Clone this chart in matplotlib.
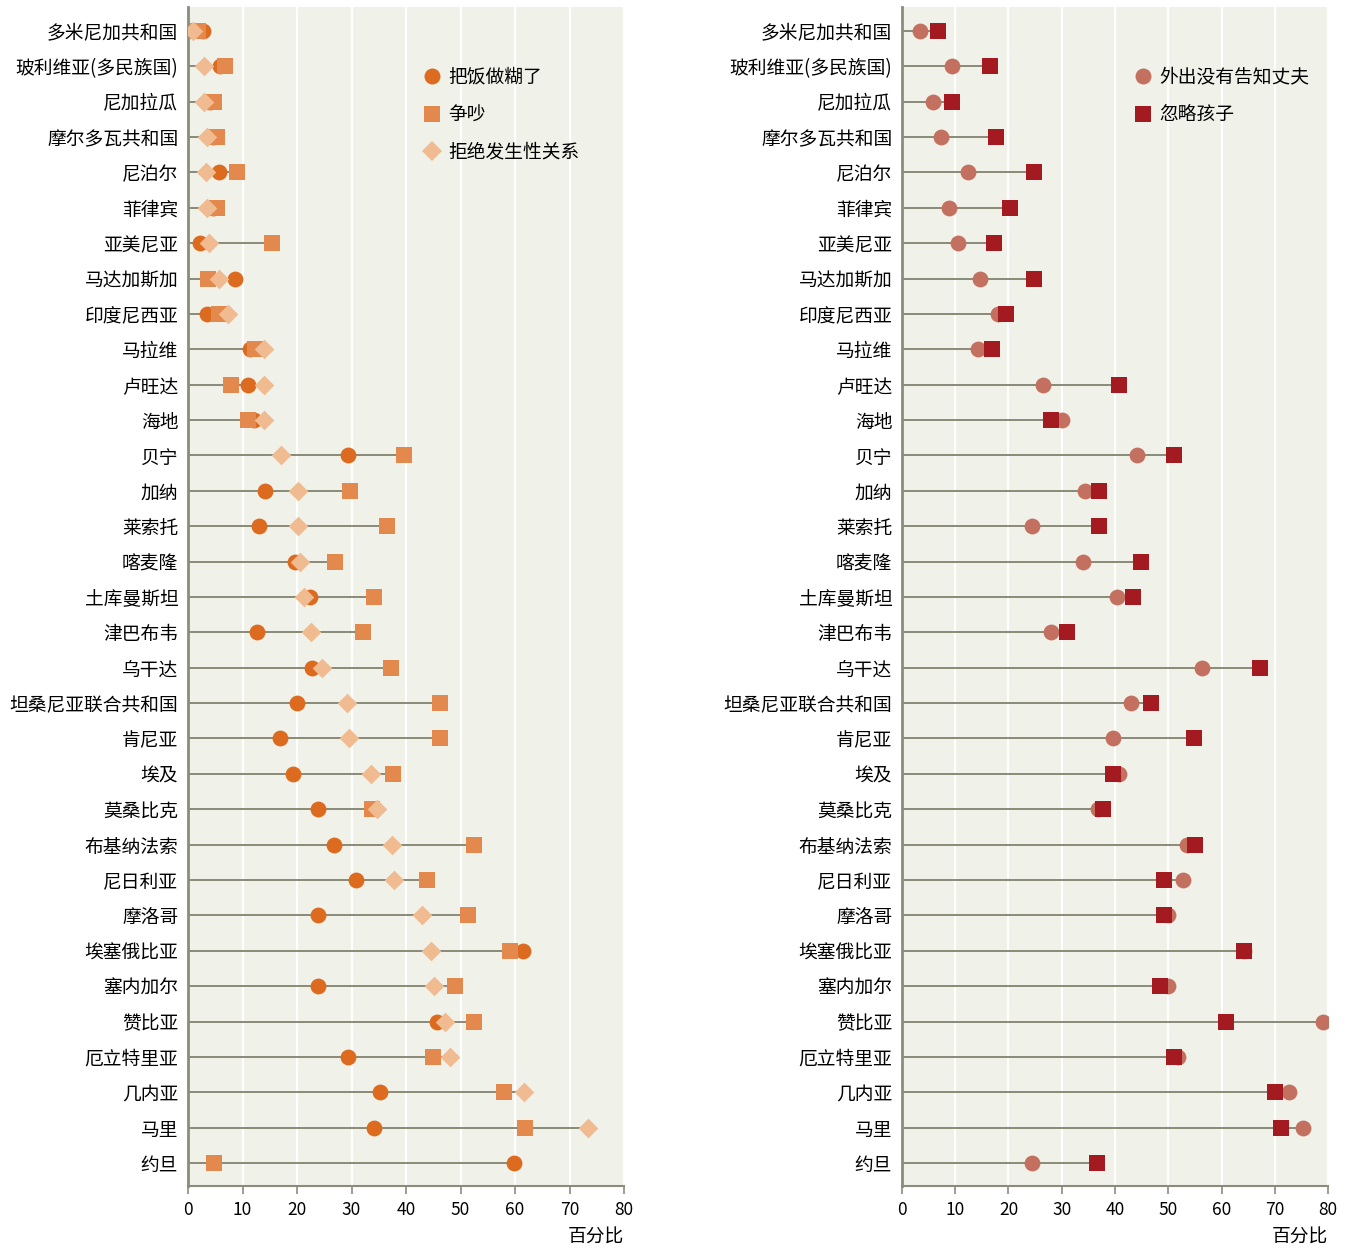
import matplotlib
matplotlib.use("Agg")
import matplotlib.pyplot as plt
from matplotlib.lines import Line2D

plt.rcParams["font.family"] = ["Noto Sans CJK SC", "DejaVu Sans"]

countries = [
    "多米尼加共和国", "玻利维亚(多民族国)", "尼加拉瓜", "摩尔多瓦共和国", "尼泊尔",
    "菲律宾", "亚美尼亚", "马达加斯加", "印度尼西亚", "马拉维", "卢旺达", "海地",
    "贝宁", "加纳", "莱索托", "喀麦隆", "土库曼斯坦", "津巴布韦", "乌干达",
    "坦桑尼亚联合共和国", "肯尼亚", "埃及", "莫桑比克", "布基纳法索", "尼日利亚",
    "摩洛哥", "埃塞俄比亚", "塞内加尔", "赞比亚", "厄立特里亚", "几内亚", "马里", "约旦",
]

# left panel
burn_food = [2.8, 5.8, 4.0, 4.5, 5.6, 4.5, 2.2, 8.7, 3.5, 11.4, 11.0, 12.2,
             29.4, 14.1, 13.0, 19.6, 22.4, 12.6, 22.7, 20.0, 16.9, 19.3, 23.9,
             26.7, 30.9, 23.9, 61.5, 23.9, 45.6, 29.4, 35.2, 34.1, 59.9]
argue = [1.9, 6.8, 4.8, 5.4, 8.9, 5.4, 15.4, 3.7, 5.7, 12.3, 7.9, 11.0,
         39.6, 29.8, 36.5, 27.0, 34.1, 32.1, 37.2, 46.2, 46.2, 37.6, 33.7,
         52.5, 43.9, 51.4, 59.1, 49.0, 52.5, 45.0, 58.0, 61.8, 4.8]
refuse_sex = [1.0, 2.9, 3.0, 3.4, 3.3, 3.4, 3.9, 5.7, 7.3, 13.9, 14.0, 13.9,
              17.1, 20.2, 20.2, 20.6, 21.3, 22.6, 24.5, 29.2, 29.6, 33.5, 34.7,
              37.4, 37.8, 42.9, 44.5, 45.2, 47.2, 48.0, 61.7, 73.4, None]

# right panel
go_out = [3.3, 9.4, 5.9, 7.4, 12.4, 8.9, 10.5, 14.7, 18.1, 14.2, 26.4, 30.0,
          44.2, 34.3, 24.5, 34.0, 40.4, 27.9, 56.3, 43.0, 39.6, 40.8, 36.8,
          53.5, 52.8, 49.9, 64.2, 49.9, 79.0, 51.8, 72.6, 75.3, 24.5]
neglect_kids = [6.8, 16.6, 9.4, 17.7, 24.8, 20.3, 17.3, 24.8, 19.6, 16.9, 40.8, 28.0,
                51.1, 37.0, 37.0, 44.9, 43.4, 31.0, 67.2, 46.7, 54.8, 39.6, 37.7,
                55.1, 49.2, 49.2, 64.2, 48.4, 60.8, 51.1, 70.0, 71.2, 36.6]

BG = "#f0f1e8"
AXC = "#8c8c7c"
LINE = "#8a8a78"
FS = 13.5

fig = plt.figure(figsize=(13.48, 12.49), dpi=100)
ax1 = fig.add_axes([188 / 1348, 0.0504, 436 / 1348, 0.9436])
ax2 = fig.add_axes([902 / 1348, 0.0504, 426 / 1348, 0.9436])

ypos = list(range(len(countries)))


def style_axis(ax):
    ax.set_facecolor(BG)
    ax.set_xlim(0, 80)
    ax.set_ylim(len(countries) - 0.35, -0.66)
    ax.set_xticks(range(0, 81, 10))
    ax.grid(axis="x", color="white", linewidth=1.5)
    ax.set_axisbelow(True)
    for s in ["top", "right"]:
        ax.spines[s].set_visible(False)
    ax.spines["left"].set_color(AXC)
    ax.spines["left"].set_linewidth(2)
    ax.spines["bottom"].set_color(AXC)
    ax.spines["bottom"].set_linewidth(1.5)
    ax.tick_params(axis="x", direction="out", length=6, width=1.2, color=AXC,
                   labelsize=12.5, pad=5)
    ax.tick_params(axis="y", length=0, labelsize=FS, pad=7)
    ax.set_yticks(ypos)
    ax.set_yticklabels(countries)
    ax.set_xlabel("百分比", fontsize=FS, loc="right", labelpad=5)


style_axis(ax1)
style_axis(ax2)

# left panel
for i in ypos:
    vals = [v for v in (burn_food[i], argue[i], refuse_sex[i]) if v is not None]
    ax1.plot([0, max(vals)], [i, i], color=LINE, lw=1.4, zorder=2)
ax1.scatter(burn_food, ypos, s=130, marker="o", color="#dc6a1f", zorder=3, linewidths=0)
ax1.scatter(argue, ypos, s=130, marker="s", color="#e4894d", zorder=4, linewidths=0)
rs_y = [i for i in ypos if refuse_sex[i] is not None]
rs_x = [refuse_sex[i] for i in rs_y]
ax1.scatter(rs_x, rs_y, s=100, marker="D", color="#f0bb91", zorder=5, linewidths=0)

h1 = [Line2D([], [], ls="none", marker="o", ms=11.5, color="#dc6a1f", mew=0),
      Line2D([], [], ls="none", marker="s", ms=11.5, color="#e4894d", mew=0),
      Line2D([], [], ls="none", marker="D", ms=10, color="#f0bb91", mew=0)]
ax1.legend(h1, ["把饭做糊了", "争吵", "拒绝发生性关系"], loc="upper left",
           bbox_to_anchor=(0.50, 0.964), frameon=False, fontsize=FS,
           handletextpad=0.35, labelspacing=0.88, handlelength=1.0)

# right panel
for i in ypos:
    ax2.plot([0, max(go_out[i], neglect_kids[i])], [i, i], color=LINE, lw=1.4, zorder=2)
ax2.scatter(go_out, ypos, s=130, marker="o", color="#c47060", zorder=3, linewidths=0)
ax2.scatter(neglect_kids, ypos, s=130, marker="s", color="#a31b21", zorder=4, linewidths=0)

h2 = [Line2D([], [], ls="none", marker="o", ms=11.5, color="#c47060", mew=0),
      Line2D([], [], ls="none", marker="s", ms=11.5, color="#a31b21", mew=0)]
ax2.legend(h2, ["外出没有告知丈夫", "忽略孩子"], loc="upper left",
           bbox_to_anchor=(0.505, 0.964), frameon=False, fontsize=FS,
           handletextpad=0.35, labelspacing=0.88, handlelength=1.0)

fig.savefig("out.png", dpi=100)
